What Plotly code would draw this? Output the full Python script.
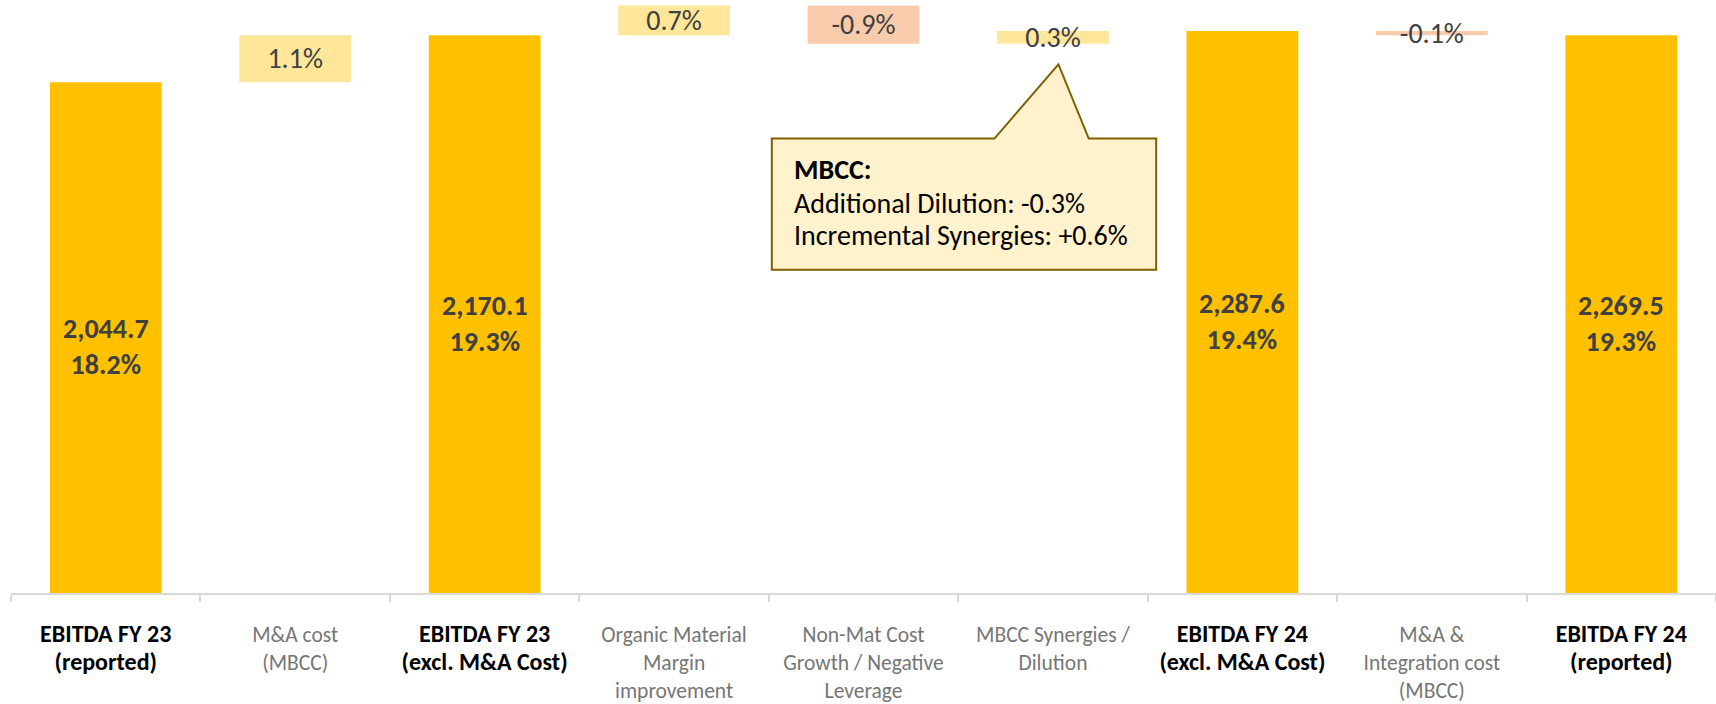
import plotly.graph_objects as go

# EBITDA margin bridge FY23 -> FY24 (margin in % of sales, EBITDA in EUR m)
categories = [
    "EBITDA FY 23|(reported)",
    "M&A cost|(MBCC)",
    "EBITDA FY 23|(excl. M&A Cost)",
    "Organic Material|Margin|improvement",
    "Non-Mat Cost|Growth / Negative|Leverage",
    "MBCC Synergies /|Dilution",
    "EBITDA FY 24|(excl. M&A Cost)",
    "M&A &|Integration cost|(MBCC)",
    "EBITDA FY 24|(reported)",
]
measures = ["absolute", "relative", "absolute", "relative", "relative",
            "relative", "absolute", "relative", "absolute"]
margin_pct = [18.2, 1.1, 19.3, 0.7, -0.9, 0.3, 19.4, -0.1, 19.3]
ebitda_abs = [2044.7, None, 2170.1, None, None, None, 2287.6, None, 2269.5]

callout_title = "MBCC:"
callout_lines = ["Additional Dilution: -0.3%", "Incremental Synergies: +0.6%"]

FONT = "Calibri, Carlito, Lato, sans-serif"
TOTAL_C = "#FFC000"
UP_C = "#FFE699"
DOWN_C = "#F8CBAD"
LABEL_C = "#404040"
Y_MIN, Y_MAX = 6.2, 20.13

x_idx = list(range(len(categories)))
is_total = [m == "absolute" for m in measures]

# step bars carry their label inside; subtotal labels are added as annotations
bar_text = ["" if tot else f"{v:.1f}%" for v, tot in zip(margin_pct, is_total)]

tick_text = []
for c, tot in zip(categories, is_total):
    lines = c.replace("&", "&amp;").split("|")
    if tot:
        tick_text.append("<br>".join(
            f"<span style='font-size:24px'><b>{ln}</b></span>" for ln in lines))
    else:
        tick_text.append("<br>".join(
            f"<span style='color:#767676'>{ln}</span>" for ln in lines))

fig = go.Figure(go.Waterfall(
    x=x_idx,
    y=margin_pct,
    measure=measures,
    base=0,
    width=0.59,
    text=bar_text,
    textposition="inside",
    insidetextanchor="middle",
    constraintext="none",
    textfont=dict(family=FONT, size=28, color=LABEL_C),
    insidetextfont=dict(family=FONT, size=28, color=LABEL_C),
    totals=dict(marker=dict(color=TOTAL_C, line=dict(width=0))),
    increasing=dict(marker=dict(color=UP_C, line=dict(width=0))),
    decreasing=dict(marker=dict(color=DOWN_C, line=dict(width=0))),
    connector=dict(visible=False),
    hoverinfo="skip",
))

# EBITDA value and margin labels centred in the visible part of each subtotal bar
for i, (v, e, tot) in enumerate(zip(margin_pct, ebitda_abs, is_total)):
    if not tot:
        continue
    fig.add_annotation(x=i, y=(Y_MIN + v) / 2, xref="x", yref="y",
                       text=f"<b>{e:,.1f}</b><br><b>{v:.1f}%</b>", showarrow=False,
                       yshift=-9, xanchor="center", yanchor="middle", align="center",
                       font=dict(family=FONT, size=28, color=LABEL_C))

# Speech-bubble callout pointing at the MBCC synergies bar
box_l, box_r = 3.516, 5.545
box_b, box_t = 13.791, 16.875
ptr_l, ptr_tip, ptr_r = 4.691, 5.029, 5.189
tip_y = 18.616
callout_path = (
    f"M {box_l},{box_t} L {ptr_l},{box_t} L {ptr_tip},{tip_y} L {ptr_r},{box_t} "
    f"L {box_r},{box_t} L {box_r},{box_b} L {box_l},{box_b} Z"
)
fig.add_shape(type="path", path=callout_path, xref="x", yref="y",
              fillcolor="#FFF2CC", line=dict(color="#7F6000", width=2), layer="above")
text_x = 3.622
for txt, ty in zip([f"<b>{callout_title}</b>"] + callout_lines, [16.14, 15.34, 14.59]):
    fig.add_annotation(x=text_x, y=ty, xref="x", yref="y", xanchor="left", yanchor="middle",
                       align="left", showarrow=False, text=txt,
                       font=dict(family=FONT, size=28, color="#000000"))

fig.update_layout(
    width=1716, height=704,
    margin=dict(l=11, r=0, t=0, b=91),
    paper_bgcolor="white", plot_bgcolor="white",
    showlegend=False,
    font=dict(family=FONT),
)
fig.update_xaxes(
    range=[-0.5, len(categories) - 0.5],
    tickmode="array", tickvals=x_idx, ticktext=tick_text,
    tickfont=dict(family=FONT, size=21.5, color="#000000"),
    ticks="", showgrid=False, zeroline=False,
    showline=True, linecolor="#D9D9D9", linewidth=2,
    minor=dict(tickmode="array", tickvals=[i - 0.5 for i in range(len(categories) + 1)],
               ticks="outside", ticklen=7, tickcolor="#D9D9D9", tickwidth=2, showgrid=False),
    ticklabelstandoff=21,
    fixedrange=True,
)
fig.update_yaxes(
    range=[Y_MIN, Y_MAX], visible=False, showgrid=False, zeroline=False, fixedrange=True,
)

fig.write_html("out.html")
